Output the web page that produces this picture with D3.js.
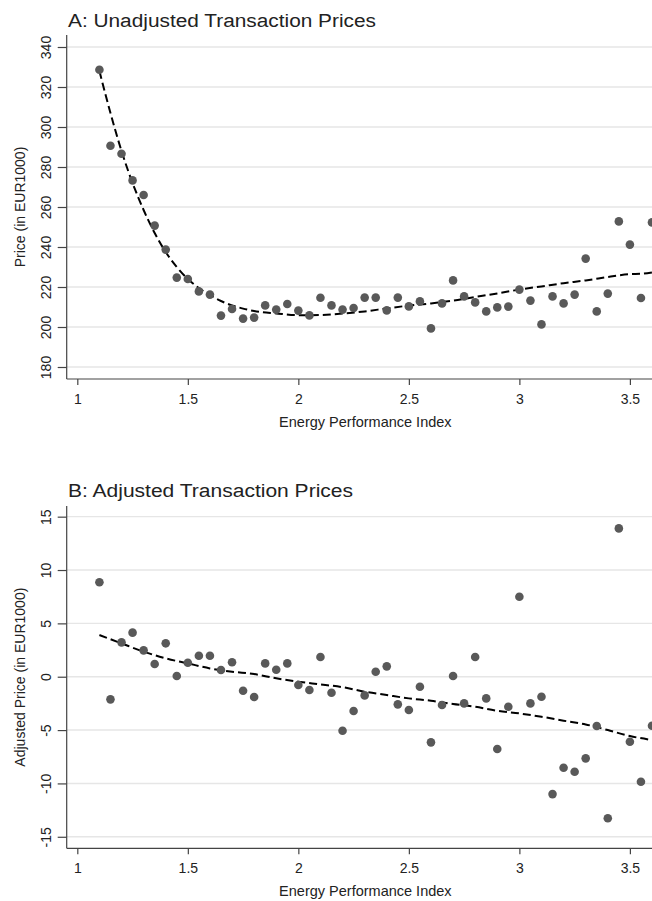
<!DOCTYPE html>
<meta charset="utf-8">
<style>
body { margin: 0; background: #fff; overflow: hidden; }
text { font-family: Arial, "Liberation Sans", sans-serif; fill: #222; }
.grid line { stroke: #e6e6e6; stroke-width: 1.4px; }
.axis path, .axis line { stroke: #444; stroke-width: 1.2px; }
.fit { fill: none; stroke: #000; stroke-width: 2px; stroke-dasharray: 8,4; }
.dot { fill: #595959; }
</style>
<div id="chart"></div>
<script src="https://cdnjs.cloudflare.com/ajax/libs/d3/7.8.5/d3.min.js"></script>
<script>

// energy performance index bins
var epi = [1.1, 1.15, 1.2, 1.25, 1.3, 1.35, 1.4, 1.45, 1.5, 1.55, 1.6, 1.65, 1.7, 1.75, 1.8, 1.85, 1.9, 1.95, 2.0,
           2.05, 2.1, 2.15, 2.2, 2.25, 2.3, 2.35, 2.4, 2.45, 2.5, 2.55, 2.6, 2.65, 2.7, 2.75, 2.8, 2.85, 2.9, 2.95,
           3.0, 3.05, 3.1, 3.15, 3.2, 3.25, 3.3, 3.35, 3.4, 3.45, 3.5, 3.55, 3.6];

// panel A: unadjusted prices
var priceA = [328.6, 290.6, 286.6, 273.3, 266, 250.7, 238.7, 224.7, 224, 217.8, 216.2, 205.7, 209, 204.2, 204.7,
              210.8, 208.7, 211.5, 208.2, 205.8, 214.6, 210.8, 208.7, 209.5, 214.7, 214.7, 208.3, 214.7, 210.3,
              212.8, 199.3, 211.8, 223.3, 215.3, 212.3, 207.8, 209.8, 210.2, 218.7, 213.2, 201.3, 215.3, 211.8,
              216.2, 234.2, 207.8, 216.7, 252.8, 241.2, 214.5, 252.3];

// panel B: adjusted prices
var priceB = [8.85, -2.12, 3.22, 4.13, 2.47, 1.19, 3.13, 0.07, 1.31, 1.97, 1.97, 0.63, 1.35, -1.31, -1.9,
              1.25, 0.66, 1.25, -0.78, -1.25, 1.85, -1.5, -5.06, -3.21, -1.75, 0.47, 0.97, -2.59, -3.12,
              -0.94, -6.15, -2.65, 0.07, -2.5, 1.85, -2.03, -6.78, -2.81, 7.5, -2.5, -1.87, -11.0, -8.53,
              -8.9, -7.65, -4.62, -13.27, 13.9, -6.09, -9.84, -4.59];

// fitted curves
var fitXA = [1.1, 1.15, 1.2, 1.25, 1.3, 1.35, 1.4, 1.45, 1.5, 1.55, 1.6, 1.65, 1.7, 1.75, 1.8, 1.9, 2.0, 2.1, 2.2,
             2.3, 2.4, 2.5, 2.6, 2.7, 2.8, 2.9, 3.0, 3.1, 3.2, 3.3, 3.4, 3.45, 3.5, 3.55, 3.6];
var fitYA = [328, 307, 288, 272, 258.5, 247, 237.5, 230, 224, 219.5, 216, 213, 210.8, 209.2, 208, 206.8, 205.9,
             206, 206.7, 207.8, 209.3, 210.7, 211.8, 213.2, 215, 216.8, 218.7, 220.3, 221.9, 223.3, 225, 225.8,
             226.4, 226.6, 227.3];

var fitXB = [1.1, 1.2, 1.3, 1.4, 1.5, 1.6, 1.7, 1.8, 1.9, 2.0, 2.1, 2.2, 2.3, 2.4, 2.5, 2.6, 2.7, 2.8, 2.9,
             3.0, 3.1, 3.2, 3.3, 3.4, 3.5, 3.6];
var fitYB = [3.91, 3.12, 2.35, 1.72, 1.25, 0.78, 0.47, 0.25, -0.15, -0.47, -0.72, -0.98, -1.4, -1.72, -2.03,
             -2.25, -2.56, -2.81, -3.19, -3.44, -3.75, -4.12, -4.47, -5.0, -5.56, -5.93];

var xTicks = [1, 1.5, 2, 2.5, 3, 3.5];
var yTicksA = [180, 200, 220, 240, 260, 280, 300, 320, 340];
var yTicksB = [-15, -10, -5, 0, 5, 10, 15];

var width = 652, height = 901;
var left = 66.7, right = 652;

var svg = d3.select("#chart").append("svg")
    .attr("width", width)
    .attr("height", height);

var x = d3.scaleLinear().domain([0.952, 3.6]).range([left, right]);

function panel(opts) {
  var y = d3.scaleLinear().domain(opts.domain).range([opts.bottom, opts.top]);
  var g = svg.append("g");

  // gridlines
  g.append("g").attr("class", "grid")
    .selectAll("line").data(opts.yTicks).enter().append("line")
      .attr("x1", left).attr("x2", right)
      .attr("y1", (d) => y(d)).attr("y2", (d) => y(d));

  // y axis (plain hyphen for negatives, like the original)
  var yAxis = g.append("g").attr("class", "axis")
      .attr("transform", `translate(${left},0)`)
      .call(d3.axisLeft(y).tickValues(opts.yTicks).tickSize(9).tickSizeOuter(0).tickFormat((d) => String(d)));
  yAxis.select(".domain").attr("d", `M0,${opts.top}V${opts.bottom}`);
  yAxis.selectAll(".tick text")
      .attr("x", null).attr("dy", null)
      .attr("transform", "translate(-16,0) rotate(-90)")
      .attr("text-anchor", "middle")
      .attr("y", 0)
      .style("font-size", "14px").style("fill", "#222");

  // x axis
  var xAxis = g.append("g").attr("class", "axis")
      .attr("transform", `translate(0,${opts.bottom})`)
      .call(d3.axisBottom(x).tickValues(xTicks).tickSize(6).tickSizeOuter(0).tickFormat((d) => String(d)));
  xAxis.select(".domain").attr("d", `M${left},0H${right}`);
  xAxis.selectAll(".tick text")
      .attr("dy", null).attr("y", 25)
      .style("font-size", "14px").style("fill", "#222");

  // fitted dashed curve
  var line = d3.line().x((d) => x(d[0])).y((d) => y(d[1])).curve(d3.curveMonotoneX);
  g.append("path").attr("class", "fit")
      .attr("d", line(d3.zip(opts.fitX, opts.fitY)));

  // binned points
  g.selectAll("circle.dot").data(d3.zip(epi, opts.values)).enter().append("circle")
      .attr("class", "dot")
      .attr("r", 4.3)
      .attr("cx", (d) => x(d[0]))
      .attr("cy", (d) => y(d[1]));

  // titles
  g.append("text")
      .attr("x", 68).attr("y", opts.titleY)
      .style("font-size", "18px")
      .attr("textLength", opts.titleLen).attr("lengthAdjust", "spacingAndGlyphs")
      .text(opts.title);

  g.append("text")
      .attr("x", (left + right) / 2 + 6).attr("y", opts.bottom + 47.5)
      .attr("text-anchor", "middle")
      .style("font-size", "14.5px")
      .text("Energy Performance Index");

  g.append("text")
      .attr("transform", `translate(25,${(opts.top + opts.bottom) / 2}) rotate(-90)`)
      .attr("text-anchor", "middle")
      .style("font-size", "14px")
      .text(opts.yLabel);
}

panel({
  domain: [174, 346], top: 35, bottom: 379,
  yTicks: yTicksA, values: priceA, fitX: fitXA, fitY: fitYA,
  title: "A: Unadjusted Transaction Prices", titleY: 27.3, titleLen: 308,
  yLabel: "Price (in EUR1000)"
});

panel({
  domain: [-16.08, 16.0], top: 506, bottom: 848.3,
  yTicks: yTicksB, values: priceB, fitX: fitXB, fitY: fitYB,
  title: "B: Adjusted Transaction Prices", titleY: 497.3, titleLen: 285,
  yLabel: "Adjusted Price (in EUR1000)"
});

</script>
